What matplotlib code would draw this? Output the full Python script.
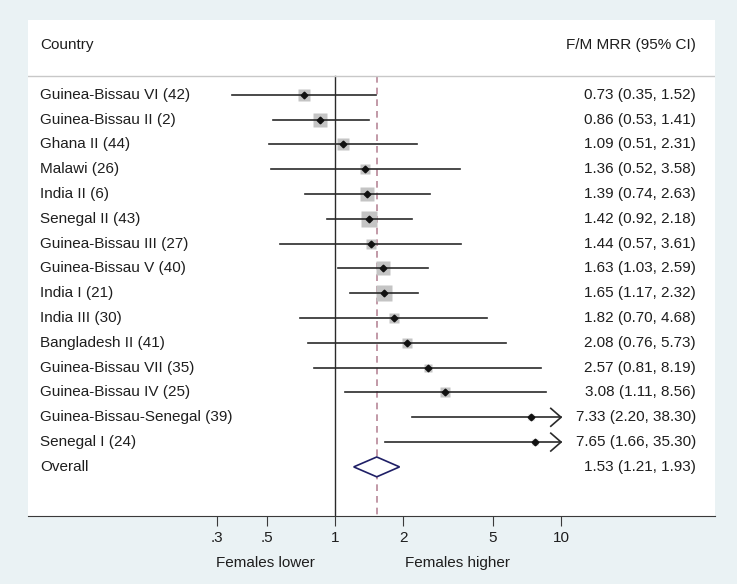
import numpy as np
import matplotlib.pyplot as plt

plt.rcParams['font.family'] = ['Liberation Sans', 'DejaVu Sans']

# Study data
studies = ["Guinea-Bissau VI (42)", "Guinea-Bissau II (2)", "Ghana II (44)", "Malawi (26)",
           "India II (6)", "Senegal II (43)", "Guinea-Bissau III (27)", "Guinea-Bissau V (40)",
           "India I (21)", "India III (30)", "Bangladesh II (41)", "Guinea-Bissau VII (35)",
           "Guinea-Bissau IV (25)", "Guinea-Bissau-Senegal (39)", "Senegal I (24)"]
mrr = [0.73, 0.86, 1.09, 1.36, 1.39, 1.42, 1.44, 1.63, 1.65, 1.82, 2.08, 2.57, 3.08, 7.33, 7.65]
lo = [0.35, 0.53, 0.51, 0.52, 0.74, 0.92, 0.57, 1.03, 1.17, 0.70, 0.76, 0.81, 1.11, 2.20, 1.66]
hi = [1.52, 1.41, 2.31, 3.58, 2.63, 2.18, 3.61, 2.59, 2.32, 4.68, 5.73, 8.19, 8.56, 38.30, 35.30]
weights = [6.5, 10.6, 7.8, 5.4, 9.1, 12.2, 5.4, 10.6, 12.2, 4.4, 4.4, 3.5, 4.4, 1.9, 1.4]

overall = 1.53
overall_lo = 1.21
overall_hi = 1.93

xticks = [0.3, 0.5, 1, 2, 5, 10]
xticklabels = [".3", ".5", "1", "2", "5", "10"]

W, H = 737, 584
fig = plt.figure(figsize=(W / 100, H / 100), dpi=100, facecolor="#eaf2f4")
ax = fig.add_axes([28 / W, (H - 516) / H, (715 - 28) / W, (516 - 20) / H])
ax.set_facecolor("white")
ax.set_xscale("log")
ax.set_xlim(10 ** -1.358, 10 ** 1.681)
ax.set_ylim(16.98, -3.02)

txt = "#1e1e1e"
fs = 11
clip = 10.0
n = len(studies)
for i in range(n):
    y = i
    # confidence interval
    if hi[i] > clip:
        ax.plot([lo[i], clip], [y, y], color="#2a2a2a", lw=1.2, zorder=2)
        ax.plot([clip / 1.11, clip, clip / 1.11], [y - 0.36, y, y + 0.36],
                color="#2a2a2a", lw=1.2, zorder=2)
    else:
        ax.plot([lo[i], hi[i]], [y, y], color="#2a2a2a", lw=1.2, zorder=2)
    # weight box
    ax.plot(mrr[i], y, marker="s", ms=3.3 * np.sqrt(weights[i]), color="#c4c4c4",
            mec="none", zorder=1)
    ax.plot(mrr[i], y, marker="D", ms=3.4, color="#111111", zorder=3)
    ax.text(10 ** -1.305, y, studies[i], ha="left", va="center", fontsize=fs, color=txt)
    ax.text(10 ** 1.596, y, f"{mrr[i]:.2f} ({lo[i]:.2f}, {hi[i]:.2f})",
            ha="right", va="center", fontsize=fs, color=txt)

# overall
yo = n
ax.fill([overall_lo, overall, overall_hi, overall], [yo, yo - 0.4, yo, yo + 0.4],
        facecolor="white", edgecolor="#1f1f66", lw=1.2, zorder=3)
ax.text(10 ** -1.305, yo, "Overall", ha="left", va="center", fontsize=fs, color=txt)
ax.text(10 ** 1.596, yo, f"{overall:.2f} ({overall_lo:.2f}, {overall_hi:.2f})",
        ha="right", va="center", fontsize=fs, color=txt)

# header
ax.text(10 ** -1.305, -2.02, "Country", ha="left", va="center", fontsize=fs, color=txt)
ax.text(10 ** 1.596, -2.02, "F/M MRR (95% CI)", ha="right", va="center", fontsize=fs, color=txt)
ax.axhline(-0.77, color="#c8c8c8", lw=1)

# reference lines
ax.plot([1, 1], [-0.77, 16.98], color="#2a2a2a", lw=1, zorder=1)
ax.plot([overall, overall], [-0.77, 16.98], color="#b88898", lw=1.2,
        ls=(0, (4, 3)), zorder=0)

for s in ["top", "left", "right"]:
    ax.spines[s].set_visible(False)
ax.spines["bottom"].set_color("#3a3a3a")
ax.set_yticks([])
ax.set_xticks(xticks)
ax.set_xticklabels(xticklabels, fontsize=fs, color=txt)
ax.xaxis.set_minor_locator(plt.NullLocator())
ax.tick_params(axis="x", direction="out", length=7, color="#3a3a3a", pad=4)

fig.text(265 / W, 1 - 563 / H, "Females lower", ha="center", va="center", fontsize=fs, color=txt)
fig.text(458 / W, 1 - 563 / H, "Females higher", ha="center", va="center", fontsize=fs, color=txt)

fig.savefig("out.png", dpi=100, facecolor=fig.get_facecolor())
